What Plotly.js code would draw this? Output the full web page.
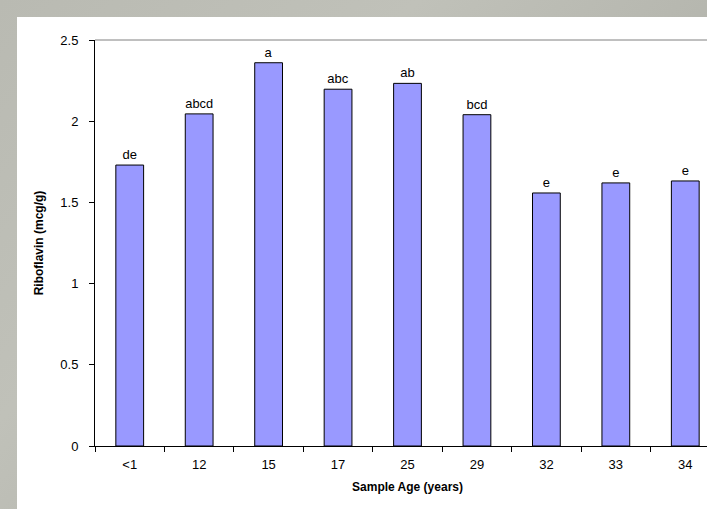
<!DOCTYPE html>
<html>
<head>
<meta charset="utf-8">
<script src="https://cdn.plot.ly/plotly-3.0.1.min.js"></script>
<style>
html,body{margin:0;padding:0;width:100%;height:100%;overflow:hidden;background:#fff;}
#bg{position:absolute;left:0;top:0;width:800px;height:600px;
background:linear-gradient(135deg,#b9bab2 0%,#c0c1b9 30%,#b4b5ad 55%,#bcbdb5 80%,#b2b3ab 100%);}
#card{position:absolute;left:17px;top:17px;width:900px;height:700px;background:#fff;overflow:hidden;}
#chart{position:absolute;left:0;top:0;width:713px;height:492px;}
</style>
</head>
<body>
<div id="bg"></div>
<div id="card"><div id="chart"></div></div>
<script>
var categories = ["<1","12","15","17","25","29","32","33","34"];
var riboflavin = [1.73,2.045,2.36,2.197,2.233,2.04,1.558,1.62,1.632];
var letters = ["de","abcd","a","abc","ab","bcd","e","e","e"];
var yTicks = [0,0.5,1,1.5,2,2.5];
var yTickText = ["0","0.5","1","1.5","2","2.5"];

var trace = {
  type:"bar", x:categories, y:riboflavin, text:letters,
  textposition:"outside", cliponaxis:false,
  textfont:{family:"Liberation Sans, Arial", size:13, color:"#000"},
  marker:{color:"#9999ff", line:{color:"#000", width:1}},
  hoverinfo:"none"
};
var layout = {
  width:713, height:492,
  margin:{l:78,t:23,r:10,b:63},
  paper_bgcolor:"#fff", plot_bgcolor:"#fff",
  bargap:0.6, showlegend:false,
  font:{family:"Liberation Sans, Arial", size:13, color:"#000"},
  xaxis:{type:"category", tickson:"boundaries", ticks:"outside", ticklen:5,
    tickcolor:"#000", showline:true, linecolor:"#000", linewidth:1,
    showgrid:false, zeroline:false,
    tickfont:{size:13}, ticklabelstandoff:6,
    title:{text:"<b>Sample Age (years)</b>", font:{size:12}, standoff:12}},
  yaxis:{range:[0,2.5], tickvals:yTicks, ticktext:yTickText, ticks:"outside", ticklen:5,
    tickcolor:"#000", showline:true, linecolor:"#000", linewidth:1,
    showgrid:false, zeroline:false, tickfont:{size:13}, ticklabelstandoff:8,
    title:{text:"<b>Riboflavin (mcg/g)</b>", font:{size:12}, standoff:14}},
  shapes:[{type:"line", xref:"paper", yref:"paper", x0:0, x1:1, y0:1, y1:1,
    line:{color:"#808080", width:1}, layer:"below"}]
};
Plotly.newPlot("chart",[trace],layout,{staticPlot:true});
</script>
</body>
</html>
